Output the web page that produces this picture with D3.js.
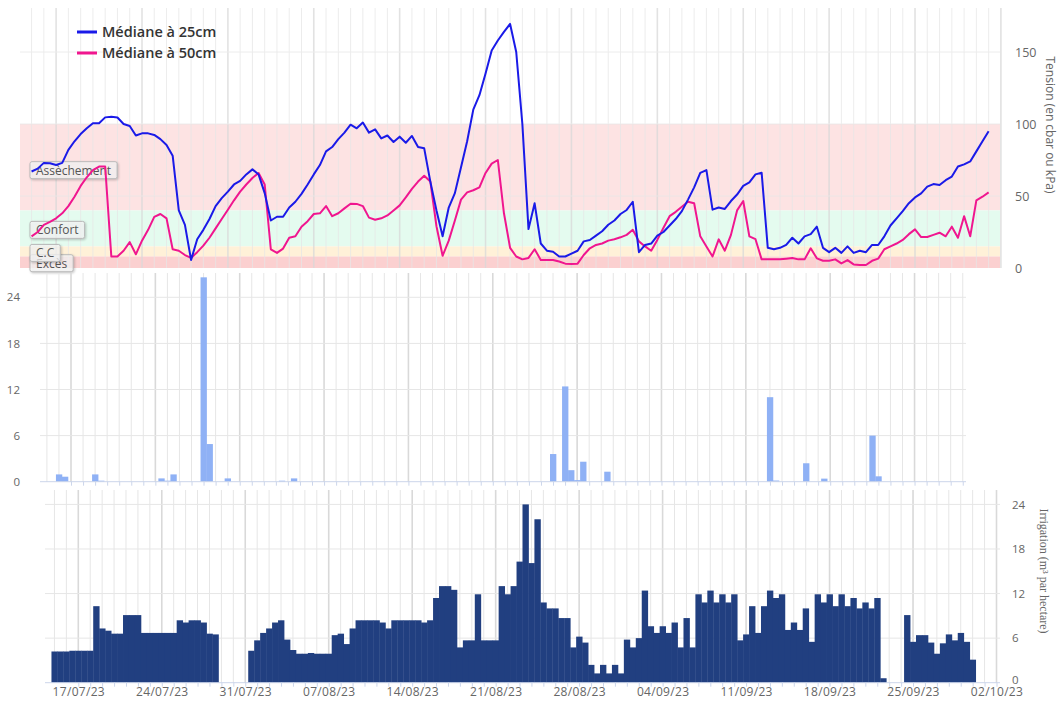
<!DOCTYPE html>
<html><head><meta charset="utf-8">
<script src="https://cdn.jsdelivr.net/npm/d3@7"></script>
<style>
html,body{margin:0;padding:0;background:#fff;}
svg{display:block;font-family:"Open Sans",sans-serif;}
</style></head><body>
<svg id="chart" width="1058" height="702"></svg>
<script>
// ---------------- DATA ----------------
// all series are half-day steps starting at this date (00:00)
const seriesStart = "2023-07-15";

// Tension, median at 25 cm (cbar / kPa)
const tension25 = [
 67, 69, 73, 72.7, 71.5, 73, 82, 88, 93, 97,
 100.5, 100.5, 104.6, 105, 104.5, 100, 98.6, 92, 93.5, 93.5,
 92.4, 89.5, 85.4, 78, 40, 30, 5.6, 20, 26.5, 34,
 43, 48.5, 53, 58, 60.5, 65, 68.5, 65, 52, 33,
 35.6, 35.6, 42, 46, 51.5, 58, 65, 71.5, 81, 84,
 89.5, 94, 99.5, 97, 101, 94, 96.3, 90, 92, 87.5,
 91.2, 87, 91.7, 84, 83.1, 60, 40, 22, 42, 52,
 70, 88, 110, 120, 135, 151, 158, 164, 169.5, 150,
 100, 27, 44.9, 17, 12, 11.3, 8, 8, 10, 12,
 18.5, 19.4, 22.5, 25.5, 30, 33, 37.5, 40.3, 46, 11,
 16, 17, 22.5, 25, 29.5, 34, 39.5, 47.5, 56, 66,
 68, 40.5, 42, 41, 46.5, 51, 57, 59.5, 65, 66.2,
 14, 13, 14, 16, 21, 17, 22, 23.5, 28.7, 14,
 11, 14, 10.5, 15, 10.5, 12, 11, 16, 16, 22,
 29.5, 34.5, 39.5, 45, 49, 51.8, 56.5, 58.3, 57.6, 61,
 63.5, 70.5, 72, 74, 81, 88, 95
];

// Tension, median at 50 cm
const tension50 = [
 22, 25, 30, 32, 34.5, 38, 43, 49.5, 57, 63,
 68, 70.4, 70.5, 8, 8, 12, 18, 9.5, 19, 26.5,
 35.5, 37.5, 34.5, 13, 12, 9, 7, 11, 15.5, 21,
 27.5, 34, 40.5, 47, 53, 58, 62.5, 66, 58, 13,
 10.5, 13.5, 21, 22, 28.7, 32.5, 37.5, 38, 43, 36,
 38, 41.4, 44.6, 44.5, 43, 35, 33.5, 34.5, 36.5, 40,
 43.5, 49, 55, 60, 64, 60, 29, 8.5, 19, 33,
 47.5, 52.5, 54, 56, 66, 72.5, 75, 38, 14, 8,
 6, 7, 13, 5.6, 5.6, 5.6, 4.5, 3, 2.8, 3,
 9, 13.7, 16, 17, 19, 20, 21.3, 23, 26.5, 18.5,
 15, 12, 19.5, 28, 36, 39, 42.5, 46, 45, 22,
 15, 8, 19.9, 12, 23, 40, 46.5, 22, 20, 6,
 6, 6, 6, 6.5, 7, 6, 6, 13.7, 6.7, 5,
 5, 6, 3.2, 5.5, 2.5, 2.1, 2.1, 5, 6.5, 13,
 15, 17, 19.5, 23.5, 26.8, 21.5, 21.5, 23, 24.5, 22,
 28.7, 21, 36, 22, 47, 49.5, 52.5
];

// Rainfall (mm) per half-day
const rain = [
 0, 0, 0.95, 0.65, 0, 0, 0, 0, 0.95, 0.13,
 0, 0, 0, 0, 0, 0, 0, 0, 0, 0.43,
 0.13, 0.95, 0, 0, 0, 0, 26.6, 4.9, 0, 0,
 0.43, 0, 0, 0, 0, 0, 0, 0, 0, 0.13,
 0, 0.43, 0, 0, 0, 0, 0, 0, 0, 0,
 0, 0, 0, 0, 0, 0, 0, 0, 0, 0,
 0, 0, 0, 0, 0, 0, 0, 0, 0, 0,
 0, 0, 0, 0, 0, 0, 0, 0, 0, 0,
 0, 0, 0, 0, 3.6, 0, 12.4, 1.5, 0.2, 2.6,
 0, 0, 0, 1.3, 0, 0, 0, 0, 0, 0,
 0, 0, 0, 0, 0, 0, 0, 0, 0, 0,
 0, 0, 0, 0, 0, 0, 0, 0, 0, 0,
 11, 0.15, 0, 0, 0, 0, 2.4, 0, 0, 0.4,
 0, 0, 0, 0, 0, 0, 0, 6, 0.7, 0,
 0, 0, 0, 0, 0, 0, 0, 0, 0, 0,
 0, 0, 0, 0, 0
];

// Irrigation (m3 per hectare) per half-day
const irrigation = [
 4.2, 4.2, 4.2, 4.3, 4.3, 4.3, 4.3, 10.3, 7.3, 7.0,
 6.6, 6.6, 9.1, 9.1, 9.1, 6.7, 6.7, 6.7, 6.7, 6.7,
 6.7, 8.4, 8.1, 8.4, 8.4, 8.1, 6.6, 6.5, 0, 0,
 0, 0, 0, 4.3, 5.7, 6.7, 7.3, 8.1, 8.4, 5.8,
 4.4, 3.9, 3.9, 4.0, 3.9, 3.9, 3.9, 6.4, 6.6, 5.2,
 7.3, 8.4, 8.4, 8.4, 8.4, 8.1, 7.3, 8.4, 8.4, 8.4,
 8.4, 8.4, 8.1, 8.4, 11.4, 13.0, 13.0, 12.5, 4.75, 5.7,
 5.7, 11.9, 5.7, 5.7, 5.7, 13.0, 11.9, 13.0, 16.3, 24.0,
 16.1, 22.0, 10.8, 10.0, 10.0, 8.7, 8.7, 4.75, 6.2, 5.4,
 2.4, 1.25, 2.4, 1.25, 2.4, 1.25, 5.8, 4.75, 6.0, 12.4,
 7.6, 6.7, 7.6, 6.7, 8.1, 4.75, 8.7, 4.75, 11.9, 10.8,
 12.4, 10.8, 11.9, 10.8, 11.9, 5.7, 6.5, 10.3, 6.7, 10.3,
 12.4, 11.4, 11.9, 7.1, 8.1, 7.1, 10.0, 5.5, 11.9, 10.8,
 11.9, 10.3, 11.9, 10.3, 11.4, 10.0, 10.8, 10.0, 11.4, 0.6,
 0, 0, 0, 9.1, 5.5, 6.4, 6.4, 5.4, 3.9, 5.3,
 6.5, 5.7, 6.7, 5.5, 3.1
];

const seriesNames = ["Médiane à 25cm", "Médiane à 50cm"];
const bandNames = ["Assèchement", "Confort", "C.C", "Excès"];
const bandLimits = [100, 40, 15, 8, 0];
const tensionTicks = [0, 50, 100, 150];
const mmTicks = [0, 6, 12, 18, 24];
const axisFirstDate = "2023-07-17";
const axisLastDate = "2023-10-02";
const tensionTitle = "Tension (en cbar ou kPa)";
const irrigationTitle = "Irrigation (m³ par hectare)";

// ---------------- DRAWING ----------------
const svg = d3.select("#chart");
const parse = d3.timeParse("%Y-%m-%d");
const t0 = parse(seriesStart);
const tAt = i => d3.timeHour.offset(t0, 12 * i);
const dA = parse(axisFirstDate), dB = parse(axisLastDate);

const colors = {
  s25: "#1a1ae8", s50: "#f0168f",
  bands: ["#fde3e3", "#e4fbef", "#fff1d8", "#fbd0d0"],
  grid: "#e6e6e6", gridMajor: "#d9d9d9", axis: "#ccd6eb",
  rain: "#8fb1f5", irr: "#213f80", text: "#666"
};

const panels = {
  top: {x0: 20, x1: 1000, y0: 8, y1: 268, xa: 56.1, xb: 1000.9},
  mid: {x0: 40, x1: 966, y0: 273, y1: 482, xa: 71, xb: 998.9},
  bot: {x0: 45, x1: 1000, y0: 490, y1: 683, xa: 78.3, xb: 996.5}
};
for (const k in panels) {
  const p = panels[k];
  p.x = d3.scaleTime().domain([dA, dB]).range([p.xa, p.xb]);
}
const yTop = d3.scaleLinear().domain([0, 150]).range([268, 52]);
const yMid = d3.scaleLinear().domain([0, 24]).range([481.7, 297.3]);
const yBot = d3.scaleLinear().domain([0, 24]).range([682.7, 504.4]);

function vGrid(p, g) {
  const days = d3.timeDay.range(d3.timeDay.ceil(p.x.invert(p.x0)), p.x.invert(p.x1 + 1));
  g.selectAll("line.vg").data(days).join("line")
    .attr("x1", d => p.x(d)).attr("x2", d => p.x(d))
    .attr("y1", p.y0).attr("y2", p.y1)
    .attr("stroke", d => d.getDay() === 1 ? colors.gridMajor : colors.grid)
    .attr("stroke-width", d => d.getDay() === 1 ? 1.6 : 1);
}
function hGrid(p, g, y, ticks) {
  g.selectAll("line.hg").data(ticks).join("line")
    .attr("x1", p.x0).attr("x2", p.x1)
    .attr("y1", d => y(d)).attr("y2", d => y(d))
    .attr("stroke", colors.grid).attr("stroke-width", 1);
}

// ---- TOP PANEL ----
const pt = panels.top;
const gTop = svg.append("g");
gTop.selectAll("rect.band").data(bandNames).join("rect")
  .attr("x", pt.x0).attr("width", pt.x1 - pt.x0)
  .attr("y", (d, i) => yTop(bandLimits[i]))
  .attr("height", (d, i) => yTop(bandLimits[i + 1]) - yTop(bandLimits[i]))
  .attr("fill", (d, i) => colors.bands[i]);
const gTopGrid = gTop.append("g").attr("opacity", 0.75);
vGrid(pt, gTopGrid.append("g"));
hGrid(pt, gTopGrid.append("g"), yTop, tensionTicks.filter(v => v > 0));

// band labels (drawn bottom-up so upper labels overlap lower ones)
const labelOrder = d3.range(bandNames.length).reverse();
labelOrder.forEach(i => {
  const cy = (yTop(bandLimits[i]) + yTop(bandLimits[i + 1])) / 2 + (i === 0 ? 3 : i === 3 ? 1 : 1.5);
  const g = gTop.append("g");
  const t = g.append("text").attr("x", 36).attr("y", cy + 4.5)
    .attr("font-size", 12).attr("fill", "#555").text(bandNames[i]);
  const w = t.node().getComputedTextLength();
  g.insert("rect", "text").attr("x", 30).attr("y", cy - 8.5).attr("width", w + 12).attr("height", 17)
    .attr("rx", 2).attr("fill", "rgba(255,255,255,0.72)").attr("stroke", "#b9b9b9").attr("stroke-width", 1)
    .style("filter", "drop-shadow(1px 1px 1px rgba(0,0,0,0.25))");
});

// lines
const lineTop = d3.line().x((d, i) => pt.x(tAt(i))).y(d => yTop(d));
gTop.append("path").datum(tension50).attr("d", lineTop)
  .attr("fill", "none").attr("stroke", colors.s50).attr("stroke-width", 2).attr("stroke-linejoin", "round");
gTop.append("path").datum(tension25).attr("d", lineTop)
  .attr("fill", "none").attr("stroke", colors.s25).attr("stroke-width", 2).attr("stroke-linejoin", "round");

// right axis
const axTop = svg.append("g").attr("transform", `translate(${pt.x1},0)`)
  .call(d3.axisRight(yTop).tickValues(tensionTicks).tickSize(0).tickPadding(15));
axTop.select(".domain").remove();
axTop.selectAll("text").attr("font-size", 12.5).attr("fill", colors.text).attr("font-family", "Open Sans");
svg.append("text").attr("transform", `translate(1046,125) rotate(90)`)
  .attr("text-anchor", "middle").attr("font-size", 12).attr("fill", colors.text).text(tensionTitle);

// legend
const legend = svg.append("g");
seriesNames.forEach((n, i) => {
  const y = 32 + i * 21;
  legend.append("line").attr("x1", 77).attr("x2", 97).attr("y1", y).attr("y2", y)
    .attr("stroke", i === 0 ? colors.s25 : colors.s50).attr("stroke-width", 3);
  legend.append("text").attr("x", 102).attr("y", y + 5).attr("font-size", 14.5).attr("font-weight", 600)
    .attr("fill", "#333").text(n);
});

// ---- MIDDLE PANEL ----
const pm = panels.mid;
const gMid = svg.append("g");
vGrid(pm, gMid.append("g"));
hGrid(pm, gMid.append("g"), yMid, mmTicks.filter(v => v > 0));
const halfW = d => pm.x(d3.timeHour.offset(d, 6)) - pm.x(d);
gMid.selectAll("rect.rain").data(rain).join("rect")
  .attr("x", (d, i) => pm.x(d3.timeHour.offset(tAt(i), -6)))
  .attr("width", (d, i) => 2 * halfW(tAt(i)) + 0.3)
  .attr("y", d => yMid(d)).attr("height", d => yMid(0) - yMid(d))
  .attr("fill", colors.rain);
gMid.append("line").attr("x1", pm.x0).attr("x2", pm.x1).attr("y1", yMid(0)).attr("y2", yMid(0))
  .attr("stroke", colors.axis);
const axMid = svg.append("g").attr("transform", `translate(${pm.x0},0)`)
  .call(d3.axisLeft(yMid).tickValues(mmTicks).tickSize(0).tickPadding(20));
axMid.select(".domain").remove();
axMid.selectAll("text").attr("font-size", 11.5).attr("fill", colors.text).attr("font-family", "Open Sans");
const axMidX = svg.append("g").attr("transform", `translate(0,${yMid(0)})`)
  .call(d3.axisBottom(pm.x).ticks(d3.timeDay.every(1)).tickSize(4).tickFormat(""));
axMidX.select(".domain").remove();
axMidX.selectAll("line").attr("stroke", colors.axis);
axMidX.selectAll(".tick").filter(d => pm.x(d) > pm.x1 || pm.x(d) < pm.x0).remove();

// ---- BOTTOM PANEL ----
const pb = panels.bot;
const gBot = svg.append("g");
vGrid(pb, gBot.append("g"));
hGrid(pb, gBot.append("g"), yBot, mmTicks.filter(v => v > 0));
const halfWb = d => pb.x(d3.timeHour.offset(d, 6)) - pb.x(d);
gBot.selectAll("rect.irr").data(irrigation).join("rect")
  .attr("x", (d, i) => pb.x(d3.timeHour.offset(tAt(i), -6)))
  .attr("width", (d, i) => 2 * halfWb(tAt(i)) + 0.4)
  .attr("y", d => yBot(d)).attr("height", d => yBot(0) - yBot(d))
  .attr("fill", colors.irr);
gBot.append("line").attr("x1", pb.x0).attr("x2", pb.x1).attr("y1", yBot(0)).attr("y2", yBot(0))
  .attr("stroke", colors.axis);
const axBotX = svg.append("g").attr("transform", `translate(0,${yBot(0)})`)
  .call(d3.axisBottom(pb.x).ticks(d3.timeDay.every(1)).tickSize(4).tickFormat(""));
axBotX.select(".domain").remove();
axBotX.selectAll("line").attr("stroke", colors.axis);
const axBotLab = svg.append("g").attr("transform", `translate(0,${yBot(0)})`)
  .call(d3.axisBottom(pb.x).ticks(d3.timeMonday.every(1)).tickSize(0).tickPadding(5)
    .tickFormat(d3.timeFormat("%d/%m/%y")));
axBotLab.select(".domain").remove();
axBotLab.selectAll("text").attr("font-size", 12).attr("fill", colors.text)
  .attr("font-family", "Open Sans").attr("letter-spacing", 0.3);
const axBotY = svg.append("g").attr("transform", `translate(${pb.x1},0)`)
  .call(d3.axisRight(yBot).tickValues(mmTicks).tickSize(0).tickPadding(12));
axBotY.select(".domain").remove();
axBotY.selectAll("text").attr("font-size", 11.5).attr("fill", colors.text).attr("font-family", "Open Sans")
  .attr("dy", d => d === 0 ? "0.1em" : "0.32em");
svg.append("text").attr("transform", `translate(1040,571) rotate(90)`)
  .attr("text-anchor", "middle").attr("font-size", 12).attr("fill", colors.text)
  .attr("font-family", "Liberation Serif").text(irrigationTitle);
</script>
</body></html>
